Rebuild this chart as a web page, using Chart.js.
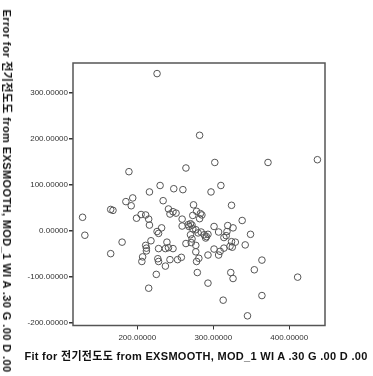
<!DOCTYPE html>
<html lang="ko">
<head>
<meta charset="UTF-8">
<title>EXSMOOTH Fit vs Error</title>
<script src="https://cdn.jsdelivr.net/npm/chart.js"></script>
<style>
    html, body {
        margin: 0;
        padding: 0;
        background: #fff;
    }
    .wrap {
        position: relative;
        width: 373px;
        height: 376px;
        overflow: hidden;
    }
    .axis-title {
        position: absolute;
        white-space: nowrap;
        font: bold 11px "Liberation Sans", Arial, "Noto Sans CJK KR", sans-serif;
        letter-spacing: 0.4px;
        color: #111;
        transform: translate(-50%, -50%);
    }
    #ytitle {
        left: 8px;
        top: 191px;
        transform: translate(-50%, -50%) rotate(90deg);
    }
    #xtitle {
        left: 196px;
        top: 355px;
        letter-spacing: 0.3px;
    }
</style>
</head>
<body>
<div class="wrap">
    <canvas id="scatter" width="373" height="376"></canvas>
    <div class="axis-title" id="ytitle">Error for 전기전도도 from EXSMOOTH, MOD_1 WI A .30 G .00 D .00</div>
    <div class="axis-title" id="xtitle">Fit for 전기전도도 from EXSMOOTH, MOD_1 WI A .30 G .00 D .00</div>
</div>

<script>
    // fitted values (x) and errors (y)
    const fitValues = [
        226, 282, 302, 372, 437, 189, 264, 128, 131, 165,
        180, 165, 168, 185, 192, 194, 216, 230, 248, 260,
        297, 310, 234, 241, 243, 247, 251, 199, 205, 211,
        215, 216, 232, 228, 218, 211, 212, 212, 207, 206,
        228, 227, 228, 239, 237, 241, 247, 237, 225, 215,
        243, 253, 258, 259, 259, 264, 267, 270, 274, 273,
        278, 283, 285, 282, 270, 273, 277, 272, 271, 277,
        277, 278, 281, 279, 284, 291, 293, 293, 293, 301,
        301, 307, 307, 309, 314, 317, 314, 313, 319, 324,
        326, 324, 329, 325, 323, 326, 338, 349, 342, 354,
        364, 364, 345, 411, 226, 268, 272, 288, 290, 280,
        318, 322
    ];
    const errorValues = [
        342, 208, 149, 149, 155, 129, 137, 30, -9, -49,
        -24, 47, 45, 64, 55, 72, 85, 99, 92, 90,
        85, 99, 66, 48, 37, 42, 39, 28, 36, 35,
        26, 13, 7, -5, -21, -31, -37, -43, -56, -66,
        -38, -60, -66, -24, -38, -36, -38, -76, -94, -124,
        -62, -62, -57, 26, 11, -27, 14, 16, 57, 34,
        43, 38, 35, 27, -8, 5, 3, -17, -25, -31,
        -45, -66, -59, -90, -2, -12, -7, -52, -113, 10,
        -39, -2, -52, -44, -14, -10, -37, -150, 12, 56,
        7, -23, -24, -35, -90, -103, 23, -7, -30, -84,
        -63, -140, -184, -100, -1, 10, 13, -8, -15, -4,
        -1, -33
    ];

    const xTicks = [200, 300, 400];
    const yTicks = [-200, -100, 0, 100, 200, 300];
    const xRange = [115.4, 447];
    const yRange = [-205, 365];

    const points = fitValues.map((x, i) => ({ x: x, y: errorValues[i] }));

    // box around the plot area
    const frame = {
        id: 'frame',
        afterDraw(chart) {
            const a = chart.chartArea;
            const ctx = chart.ctx;
            ctx.save();
            ctx.strokeStyle = '#555';
            ctx.lineWidth = 1.5;
            ctx.strokeRect(a.left, a.top, a.right - a.left, a.bottom - a.top);
            ctx.restore();
        }
    };

    const tickFont = { family: '"Liberation Sans", Arial, sans-serif', size: 8 };

    new Chart(document.getElementById('scatter'), {
        type: 'scatter',
        data: {
            datasets: [{
                data: points,
                pointRadius: 3.3,
                pointBorderWidth: 1,
                pointBorderColor: '#555',
                pointBackgroundColor: 'rgba(0,0,0,0)'
            }]
        },
        options: {
            responsive: false,
            animation: false,
            layout: { padding: { left: 0, top: 63, right: 48, bottom: 0 } },
            plugins: {
                legend: { display: false },
                tooltip: { enabled: false }
            },
            scales: {
                x: {
                    type: 'linear',
                    min: xRange[0],
                    max: xRange[1],
                    afterBuildTicks: s => { s.ticks = xTicks.map(v => ({ value: v })); },
                    afterFit: s => { s.height = 50.5; },
                    grid: { drawOnChartArea: false, tickLength: 4, tickColor: '#333', lineWidth: 1 },
                    border: { display: false },
                    ticks: {
                        padding: 3,
                        color: '#333',
                        font: tickFont,
                        maxRotation: 0,
                        callback: v => v.toFixed(5)
                    }
                },
                y: {
                    type: 'linear',
                    min: yRange[0],
                    max: yRange[1],
                    afterBuildTicks: s => { s.ticks = yTicks.map(v => ({ value: v })); },
                    afterFit: s => { s.width = 73; },
                    grid: { drawOnChartArea: false, tickLength: 4, tickColor: '#333', lineWidth: 1.5 },
                    border: { display: false },
                    ticks: {
                        padding: 1,
                        color: '#333',
                        font: tickFont,
                        callback: v => v.toFixed(5)
                    }
                }
            }
        },
        plugins: [frame]
    });
</script>
</body>
</html>
